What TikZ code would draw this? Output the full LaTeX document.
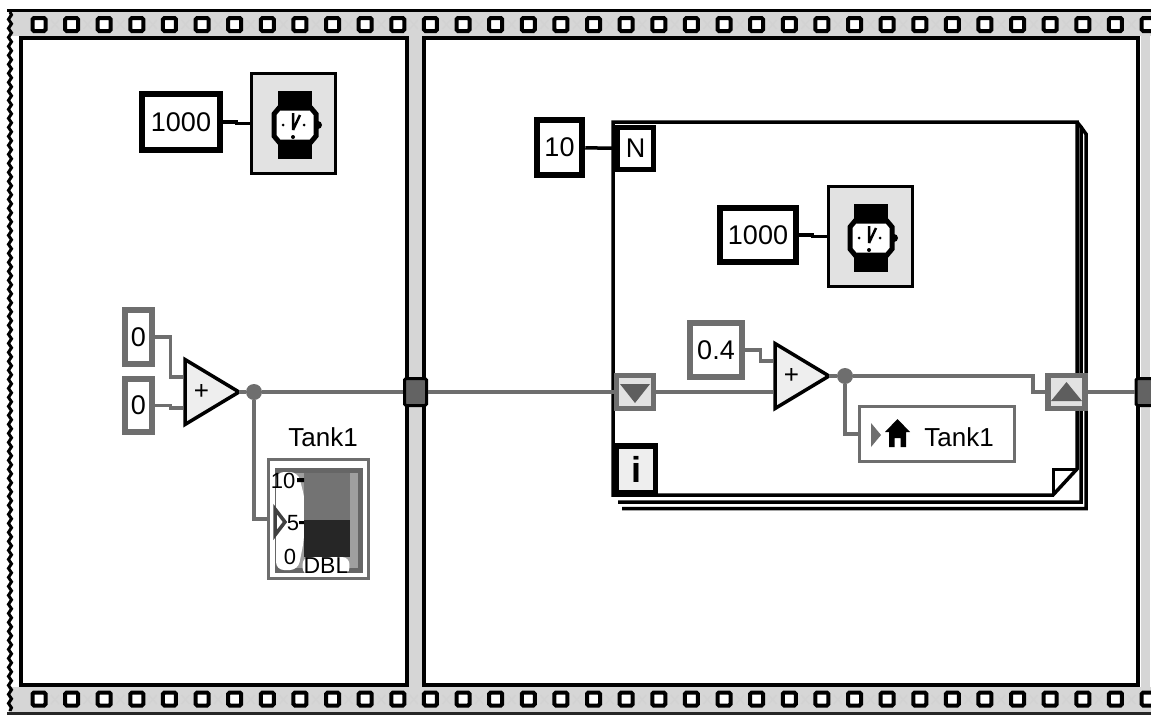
\documentclass[tikz,border=0pt]{standalone}
\usepackage{fontspec}
\setmainfont{Liberation Sans}
\usetikzlibrary{positioning,calc,shapes.geometric,decorations.pathmorphing}
\definecolor{wireGray}{HTML}{6E6E6E}
\definecolor{frameGray}{HTML}{D6D6D6}
\definecolor{timerGray}{HTML}{E2E2E2}
\begin{document}
\begin{tikzpicture}[x=1pt,y=-1pt]
    \tikzset{
      wire/.style={draw=wireGray, line width=3.5pt},
      blackconst/.style={draw=black, fill=white, line width=6.5pt, inner sep=0pt, font=\fontsize{27}{30}\selectfont},
      grayconst/.style={draw=wireGray, fill=white, line width=6.5pt, inner sep=0pt, font=\fontsize{27}{30}\selectfont},
      timerbox/.style={draw=black, fill=timerGray, line width=3.5pt, minimum width=84pt, minimum height=100pt},
      tunnel/.style={draw=black, fill=wireGray!90!black, line width=3pt, rounded corners=1.5pt, minimum width=22pt, minimum height=27pt, inner sep=0pt},
      shiftreg/.style={draw=wireGray, fill=timerGray, line width=5.5pt, minimum width=37pt, minimum height=33pt, inner sep=0pt},
      adder/.style={isosceles triangle, isosceles triangle stretches, shape border rotate=0, draw=black, fill=timerGray!60!white, line width=3.5pt, inner sep=0pt, outer sep=0pt, minimum width=65pt, minimum height=54pt, anchor=apex, font=\fontsize{26}{28}\selectfont},
      wiredot/.style={circle, fill=wireGray, minimum size=16pt, inner sep=0pt},
      tanklabel/.style={font=\fontsize{26}{28}\selectfont, inner sep=0pt},
      scalelabel/.style={font=\fontsize{22}{24}\selectfont, inner sep=0pt},
      watch/.pic={
        \fill[black] (-17,-34) rectangle (17,34);
        \draw[black, fill=white, line width=5pt] (-16,-17) -- (16,-17) -- (21,-11) -- (21,11) -- (16,17) -- (-16,17) -- (-21,11) -- (-21,-11) -- cycle;
        \fill[black] (23,0) circle (4);
        \draw[black, line width=2.5pt] (-2,5) -- (-2,-12) (-2,5) -- (5,-10);
        \fill[black] (-12,0) circle (1.5) (9,0) circle (1.5) (-2,12) circle (2);
      }
    }
    \useasboundingbox (0,0) rectangle (1151,715);
    \fill[white] (0,0) rectangle (1151,715);

    % Film strip
    \fill[frameGray] (9,11) rectangle (1151,36);
    \fill[frameGray] (9,687) rectangle (1151,712);
    \fill[frameGray] (408,36) rectangle (423,687);
    \fill[frameGray] (1141,36) rectangle (1150,687);
    \draw[black, line width=3pt] (7,10) -- (1151,10);
    \draw[black!85, line width=3pt] (7,713) -- (1151,713);
    \draw[black, line width=3pt, decorate, decoration={snake, amplitude=1.5pt, segment length=9pt}] (10,12) -- (10,711);
    \foreach \i in {0,...,34} {
      \pgfmathsetmacro{\sx}{39+32.62*\i}
      \draw[gray!35, line width=1.5pt] (\sx+12,20) -- (\sx+20,29) (\sx+20,20) -- (\sx+12,29);
      \draw[gray!35, line width=1.5pt] (\sx+12,695) -- (\sx+20,704) (\sx+20,695) -- (\sx+12,704);
      \draw[black, fill=white, line width=4pt, rounded corners=1.5pt] (\sx-6.5,18) rectangle (\sx+6.5,31);
      \draw[black, fill=white, line width=4pt, rounded corners=1.5pt] (\sx-6.5,692.5) rectangle (\sx+6.5,705.5);
    }

    % Frames
    \draw[black, fill=white, line width=3.5pt] (21,38) rectangle (407,685);
    \draw[black, fill=white, line width=3.5pt] (424,38) rectangle (1138,685);

    % Left frame
    \node[blackconst, minimum width=78pt, minimum height=56pt] (waitA) at (181,122) {1000};
    \node[timerbox] (timerA) at (293.5,123.5) {};
    \pic at (295,125) {watch};
    \draw[black, line width=3.5pt] (waitA.east) -- ++(13,0) |- (timerA.west);

    \node[grayconst, minimum width=27pt, minimum height=54pt] (zeroA) at (138.5,337) {0};
    \node[grayconst, minimum width=27pt, minimum height=53pt] (zeroB) at (138.5,405.5) {0};
    \node[adder] (addA) at (239,392) {+};
    \coordinate (addAinA) at (183,377);
    \coordinate (addAinB) at (183,408);
    \node[wiredot] (dotA) at (254,392) {};
    \node[tunnel] (tunnelA) at (415.5,392) {};
    \node[draw=wireGray, line width=3pt, minimum width=100pt, minimum height=119pt, inner sep=0pt] (tankA) at (318.5,519) {};
    \node[tanklabel] (tankAname) at (323,437) {Tank1};

    \draw[wire] (zeroA.east) -- ++(15,0) |- (addAinA);
    \draw[wire] (zeroB.east) -- ++(15,0) |- (addAinB);
    \draw[wire] (addA.apex) -- (dotA);
    \draw[wire] (dotA) -- (tunnelA);
    \draw[wire] (dotA) |- (tankA.west);

    % Tank indicator
    \draw[black!60, fill=gray!75, line width=5pt] (277,470) rectangle (360,570);
    \fill[white, rounded corners=8pt] (276,472) -- (298,472) -- (305,500) -- (304,540) -- (298,570) -- (276,570) -- cycle;
    \fill[gray!90!black] (304,473) rectangle (350,520);
    \fill[black!85] (304,520) rectangle (350,557);
    \fill[black] (297,478) rectangle (304,482) (299,521) rectangle (304,524);
    \node[scalelabel] (scaleTen) at (283,481) {10};
    \node[scalelabel] (scaleFive) at (293,523) {5};
    \node[scalelabel] (scaleZero) at (290,557) {0};
    \node[fill=white, rounded corners=7pt, inner sep=1pt, font=\fontsize{23}{25}\selectfont] (tankAtype) at (326,566) {DBL};
    \draw[black!75, fill=white, line width=3.5pt] (275,509) -- (285,522) -- (275,535) -- cycle;

    % Right frame
    \node[blackconst, minimum width=45pt, minimum height=55pt] (countN) at (559.5,147.5) {10};

    % For loop
    \draw[black, line width=3.5pt] (1077,122) -- (1081,127) -- (1081,502) -- (618,502);
    \draw[black, line width=3.5pt] (1081,127) -- (1086,134) -- (1086,508.5) -- (622,508.5);
    \draw[black, fill=white, line width=3.5pt] (613,122) -- (1077,122) -- (1077,469) -- (1053,495) -- (613,495) -- cycle;
    \draw[black, line width=3pt] (1053,495) -- (1053,469) -- (1077,469);
    \node[draw=black, fill=white, line width=5.5pt, minimum width=36pt, minimum height=42pt, inner sep=0pt, font=\fontsize{27}{30}\selectfont] (loopN) at (635.5,148.5) {N};
    \node[draw=black, fill=timerGray!60!white, line width=5.5pt, minimum width=39pt, minimum height=47pt, inner sep=0pt, font=\bfseries\fontsize{36}{38}\selectfont] (loopI) at (636,469.5) {i};
    \draw[black, line width=3.5pt] (countN) -- (loopN);

    \node[blackconst, minimum width=76pt, minimum height=54pt] (waitB) at (758,235) {1000};
    \node[timerbox] (timerB) at (870.5,236.5) {};
    \pic at (871,238) {watch};
    \draw[black, line width=3.5pt] (waitB.east) -- ++(13,0) |- (timerB.west);

    \node[grayconst, minimum width=52pt, minimum height=54pt] (gainB) at (716,350) {0.4};
    \node[adder] (addB) at (829,376) {+};
    \coordinate (addBinA) at (773,361);
    \coordinate (addBinB) at (773,392);
    \node[wiredot] (dotB) at (845,376) {};
    \coordinate (bendB) at (1033,376);
    \node[shiftreg] (srDown) at (635,392) {};
    \node[shiftreg] (srUp) at (1066.5,392) {};
    \node[tunnel] (tunnelB) at (1147,392) {};
    \node[draw=wireGray, line width=3pt, minimum width=155pt, minimum height=55pt, inner sep=0pt] (tankB) at (937,434) {};
    \node[tanklabel] (tankBname) at (959,437) {Tank1};

    \draw[wire] (tunnelA) -- (srDown);
    \draw[wire] (srDown) -- (addBinB);
    \draw[wire] (gainB.east) -- ++(15,0) |- (addBinA);
    \draw[wire] (addB.apex) -- (dotB);
    \draw[wire] (dotB) -- (bendB) |- (srUp.west);
    \draw[wire] (dotB) |- (tankB.west);
    \draw[wire] (srUp) -- (tunnelB);

    % Shift register arrows and local variable marks
    \fill[wireGray!85!black] (620,384) -- (650,384) -- (635,403) -- cycle;
    \fill[wireGray!85!black] (1051,401) -- (1082,401) -- (1066.5,382) -- cycle;
    \fill[wireGray] (871,423) -- (881,435) -- (871,447) -- cycle;
    \fill[black] (897.5,419) -- (910,432) -- (906,432) -- (906,447) -- (900.5,447) -- (900.5,438) -- (894.5,438) -- (894.5,447) -- (889,447) -- (889,432) -- (885,432) -- cycle;
  \end{tikzpicture}
\end{document}
